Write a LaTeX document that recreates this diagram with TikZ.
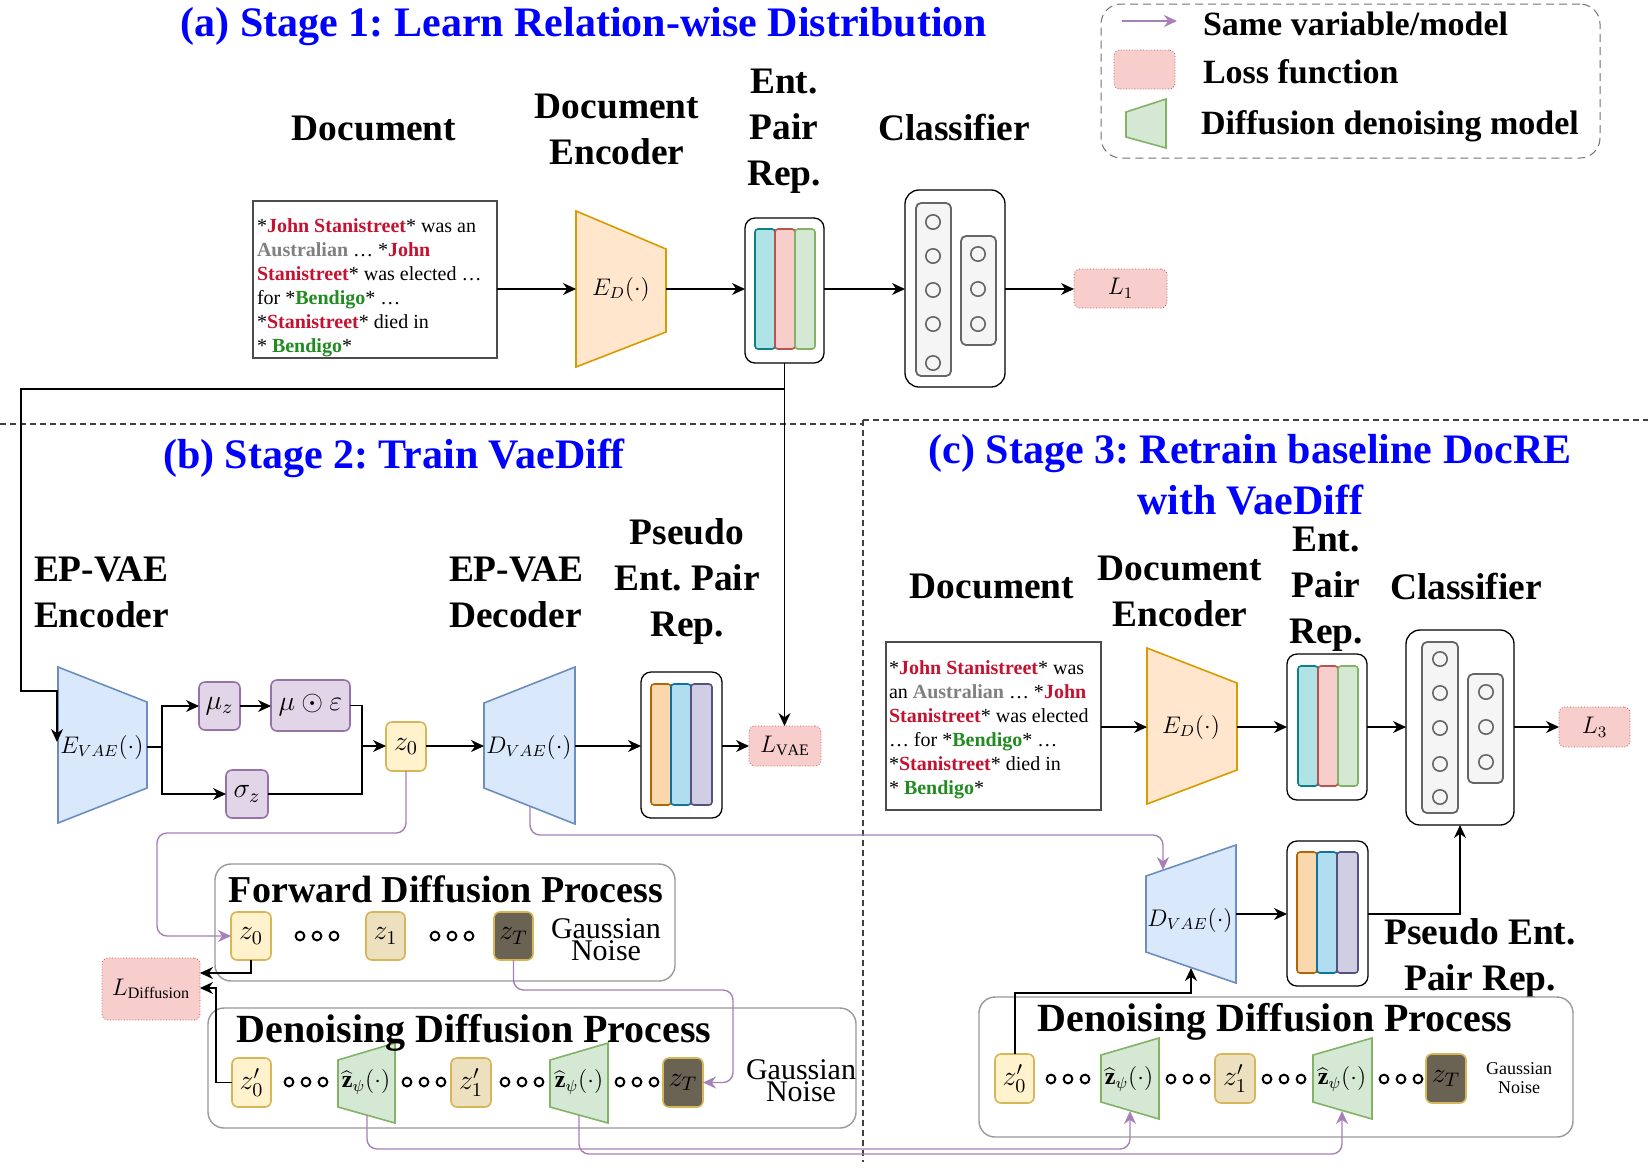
\RequirePackage{fix-cm}
\documentclass[tikz,border=0pt]{standalone}
\usepackage{fontspec}
\setmainfont{Liberation Serif}
\usetikzlibrary{arrows.meta,calc}
\frenchspacing
\definecolor{dred}{HTML}{C41230}
\definecolor{dgreen}{HTML}{228B22}
\definecolor{dgray}{HTML}{808080}
\definecolor{orfill}{HTML}{FFE6CC}\definecolor{orline}{HTML}{D79B00}
\definecolor{tealf}{HTML}{B0E3E6}\definecolor{teall}{HTML}{0E8088}
\definecolor{redf}{HTML}{F8CECC}\definecolor{redl}{HTML}{B85450}
\definecolor{greenf}{HTML}{D5E8D4}\definecolor{greenl}{HTML}{82B366}
\definecolor{grayf}{HTML}{F5F5F5}\definecolor{grayl}{HTML}{666666}
\definecolor{bluef}{HTML}{DAE8FC}\definecolor{bluel}{HTML}{6C8EBF}
\definecolor{purf}{HTML}{E1D5E7}\definecolor{purl}{HTML}{9673A6}
\definecolor{yelf}{HTML}{FFF2CC}\definecolor{yell}{HTML}{D6B656}
\definecolor{beigef}{HTML}{EDE0BF}
\definecolor{darkf}{HTML}{6A6354}
\definecolor{ortwof}{HTML}{FAD7AC}\definecolor{ortwol}{HTML}{B46504}
\definecolor{blutwof}{HTML}{B1DDF0}\definecolor{blutwol}{HTML}{10739E}
\definecolor{purtwof}{HTML}{D0CEE2}\definecolor{purtwol}{HTML}{56517E}
\definecolor{plink}{HTML}{A680B8}
\definecolor{boxgray}{HTML}{999999}
\newcommand\mkbox[7]{\node[#1, minimum width={(#5-#3)*0.5pt}, minimum height={(#6-#4)*0.5pt}] (#2) at ({(#3+#5)/2},{(#4+#6)/2}) {#7};}
\newcommand\threedots[2]{\foreach \dx in {-17,0,17}{\draw[line width=1pt] ({#1+\dx},#2) circle (2.2pt);}}
\tikzset{
 lbl/.style={font=\fontsize{18.7}{23}\selectfont\bfseries, align=center},
 ttl/.style={font=\fontsize{21}{25.5}\selectfont\bfseries, text=blue, align=center},
 legtxt/.style={font=\fontsize{17}{20}\selectfont\bfseries, anchor=west},
 doctxt/.style={font=\fontsize{10}{12}\selectfont, align=left, anchor=west},
 docbox/.style={draw=black!70, line width=0.9pt, fill=white},
 repbox/.style={draw=black, line width=0.65pt, rounded corners=5pt, fill=white},
 bar/.style={line width=0.8pt, rounded corners=1.5pt},
 clsbox/.style={draw=black, line width=0.65pt, rounded corners=7pt, fill=white},
 col/.style={draw=grayl, fill=grayf, line width=0.9pt, rounded corners=2.5pt},
 neuron/.style={draw=grayl, line width=0.8pt},
 loss/.style={draw=redl, densely dotted, line width=0.4pt, fill=redf, rounded corners=3pt, font=\fontsize{12}{14}\selectfont},
 legbox/.style={draw=black!55, dash pattern=on 4pt off 2.5pt, line width=0.5pt, rounded corners=10pt},
 vaetrap/.style={draw=bluel, fill=bluef, line width=0.8pt},
 edtrap/.style={draw=orline, fill=orfill, line width=0.8pt},
 dmtrap/.style={draw=greenl, fill=greenf, line width=0.8pt},
 mubox/.style={draw=purl, fill=purf, line width=0.8pt, rounded corners=3pt, font=\fontsize{14}{16}\selectfont},
 zbox/.style={draw=yell, fill=yelf, line width=0.8pt, rounded corners=3pt, font=\fontsize{14}{16}\selectfont},
 zonebox/.style={zbox, fill=beigef},
 ztbox/.style={zbox, fill=darkf},
 proc/.style={draw=boxgray, line width=0.7pt, rounded corners=8pt, fill=white},
 ptitle/.style={font=\fontsize{19}{22}\selectfont\bfseries},
 arr/.style={draw=black, line width=0.6pt, -{Stealth[length=6.5pt,width=6pt]}},
 plainline/.style={draw=black, line width=0.6pt},
 parr/.style={draw=plink, line width=0.7pt, rounded corners=5pt, -{Stealth[length=6.5pt,width=6pt]}},
 dashsep/.style={draw=black!75, line width=0.6pt, dash pattern=on 3pt off 2pt},
 mathlbl/.style={font=\fontsize{12}{14}\selectfont},
 gn/.style={font=\fontsize{15}{10}\selectfont, align=center},
 gns/.style={font=\fontsize{9}{9.5}\selectfont, align=center}
}
\begin{document}
\begin{tikzpicture}[x=0.5pt,y=-0.5pt, every node/.style={inner sep=0pt, outer sep=0pt}]
\fill[white] (0,0) rectangle (1648,1175);
\useasboundingbox (0,0) rectangle (1648,1175);
% separators
\draw[dashsep] (0,424) -- (863,424);
\draw[dashsep] (863,420) -- (1648,420);
\draw[dashsep] (863,420) -- (863,1162);
% titles
\node[ttl] (t1) at (584,27) {(a) Stage 1: Learn Relation-wise Distribution};
\node[ttl] (t2) at (394,458) {(b) Stage 2: Train VaeDiff};
\node[ttl] (t3) at (1250,475) {(c) Stage 3: Retrain baseline DocRE\\with VaeDiff};
% legend
\mkbox{legbox}{leg}{1101}{4}{1600}{158}{}
\coordinate (la1) at (1122,21); \coordinate (la2) at (1177,21);
\draw[parr] (la1) -- (la2);
\node[legtxt] (lg1) at (1203,24) {Same variable/model};
\mkbox{loss}{legL}{1114}{50}{1175}{89}{}
\node[legtxt] (lg2) at (1203,72) {Loss function};
\draw[dmtrap] (1126,112) -- (1166,99) -- (1166,148) -- (1126,137) -- cycle;
\node[legtxt] (lg3) at (1201,126) {Diffusion denoising model};
% ---------- Stage 1 ----------
\node[lbl] (h1a) at (374,128) {Document};
\node[lbl] (h1b) at (617,129) {Document\\Encoder};
\node[lbl] (h1c) at (784,131) {Ent.\\Pair\\Rep.};
\node[lbl] (h1d) at (954,128) {Classifier};
\mkbox{docbox}{doc1}{253}{201}{497}{358}{}
\node[doctxt] (doc1t) at (257,288) {*\textcolor{dred}{\textbf{John Stanistreet}}* was an\\
\textcolor{dgray}{\textbf{Australian}} … *\textcolor{dred}{\textbf{John}}\\
\textcolor{dred}{\textbf{Stanistreet}}* was elected …\\
for *\textcolor{dgreen}{\textbf{Bendigo}}* …\\
*\textcolor{dred}{\textbf{Stanistreet}}* died in\\
* \textcolor{dgreen}{\textbf{Bendigo}}*};
\draw[edtrap] (576,211) -- (666,249) -- (666,332) -- (576,367) -- cycle;
\node[mathlbl] (ED1) at (621,289) {$E_D(\cdot)$};
\coordinate (ED1w) at (576,289); \coordinate (ED1e) at (666,289);
\mkbox{repbox}{rep1}{745}{218}{824}{363}{}
\draw[bar, draw=teall, fill=tealf] (755,229) rectangle (775,349);
\draw[bar, draw=redl, fill=redf] (775,229) rectangle (795,349);
\draw[bar, draw=greenl, fill=greenf] (795,229) rectangle (815,349);
\mkbox{clsbox}{cls1}{905}{190}{1005}{387}{}
\draw[col] (916,203) rectangle (951,376);
\foreach \yy in {222,256,290,324,363} \draw[neuron] (933,\yy) circle (3.6pt);
\draw[col] (961,236) rectangle (996,345);
\foreach \yy in {254,289,324} \draw[neuron] (978,\yy) circle (3.6pt);
\mkbox{loss}{L1}{1074}{269}{1167}{308}{$L_1$}
\draw[arr] (doc1.east |- ED1w) -- (ED1w);
\draw[arr] (ED1e) -- (rep1.west |- ED1e);
\draw[arr] (rep1.east |- ED1e) -- (cls1.west |- ED1e);
\draw[arr] (cls1.east |- ED1e) -- (L1.west |- ED1e);
% ---------- Stage 2 ----------
\node[lbl, align=left, anchor=west] (h2a) at (34,592) {EP-VAE\\Encoder};
\node[lbl, align=left, anchor=west] (h2b) at (449,592) {EP-VAE\\Decoder};
\node[lbl] (h2c) at (687,581) {Pseudo\\Ent. Pair\\Rep.};
\draw[vaetrap] (58,667) -- (147,702) -- (147,788) -- (58,823) -- cycle;
\node[mathlbl] (EVAE) at (102,747) {$E_{VAE}(\cdot)$};
\coordinate (EVAEe) at (147,747); \coordinate (evin) at (57,742);
\mkbox{mubox}{mu}{199}{682}{240}{730}{$\mu_z$}
\mkbox{mubox}{mue}{271}{680}{350}{731}{$\mu\odot\varepsilon$}
\mkbox{mubox}{sig}{226}{770}{268}{818}{$\sigma_z$}
\mkbox{zbox}{z0a}{386}{722}{426}{771}{$z_0$}
\draw[vaetrap] (484,703) -- (575,667) -- (575,824) -- (484,788) -- cycle;
\node[mathlbl] (DVAE2) at (529,747) {$D_{VAE}(\cdot)$};
\coordinate (DV2w) at (484,746); \coordinate (DV2e) at (575,746); \coordinate (DV2b) at (530,806);
\mkbox{repbox}{rep2}{641}{672}{722}{818}{}
\draw[bar, draw=ortwol, fill=ortwof] (651,684) rectangle (671,805);
\draw[bar, draw=blutwol, fill=blutwof] (671,684) rectangle (691,805);
\draw[bar, draw=purtwol, fill=purtwof] (691,684) rectangle (712,805);
\mkbox{loss}{LVAE}{749}{726}{821}{766}{$L_{\mathrm{VAE}}$}
\draw[arr] (rep1.south) |- (21,389) |- (57,691) -- (evin);
\draw[arr] (rep1.south) -- (rep1.south |- LVAE.north);
\coordinate (br1) at (162,747); \coordinate (mg) at (362,746);
\draw[plainline] (EVAEe) -- (br1);
\draw[arr] (br1) |- (mu.west);
\draw[arr] (br1) |- (sig.west);
\draw[arr] (mu.east) -- (mue.west |- mu.east);
\draw[plainline] (mue.east) -| (mg);
\draw[plainline] (sig.east) -| (mg);
\draw[arr] (mg) -- (z0a.west |- mg);
\draw[arr] (z0a.east |- DV2w) -- (DV2w);
\draw[arr] (DV2e) -- (rep2.west |- DV2e);
\draw[arr] (rep2.east |- DV2e) -- (LVAE.west |- DV2e);
% forward diffusion
\mkbox{proc}{fbox}{215}{864}{675}{981}{}
\node[ptitle] (fttl) at (446,889) {Forward Diffusion Process};
\mkbox{zbox}{fz0}{231}{912}{271}{960}{$z_0$}
\threedots{317}{936}
\mkbox{zonebox}{fz1}{366}{912}{405}{960}{$z_1$}
\threedots{452}{936}
\mkbox{ztbox}{fzT}{494}{912}{533}{960}{$z_T$}
\node[gn] (fgn) at (606,940) {Gaussian\\Noise};
\mkbox{loss}{LD}{102}{958}{200}{1020}{$L_{\mathrm{Diffusion}}$}
% denoising stage 2
\mkbox{proc}{dbox2}{208}{1008}{856}{1128}{}
\mkbox{zbox}{dz0}{232}{1058}{271}{1107}{$z'_0$}
\threedots{306}{1082}
\draw[dmtrap] (338,1060) -- (395,1043) -- (395,1123) -- (338,1107) -- cycle;
\node[mathlbl] (tr1) at (366,1082) {$\widehat{\mathbf{z}}_{\psi}(\cdot)$};
\threedots{424}{1082}
\mkbox{zonebox}{dz1}{451}{1058}{491}{1107}{$z'_1$}
\threedots{522}{1082}
\draw[dmtrap] (550,1060) -- (608,1043) -- (608,1123) -- (550,1107) -- cycle;
\node[mathlbl] (tr2) at (579,1082) {$\widehat{\mathbf{z}}_{\psi}(\cdot)$};
\threedots{637}{1082}
\mkbox{ztbox}{dzT}{663}{1058}{703}{1107}{$z_T$}
\node[gn] (dgn) at (801,1081) {Gaussian\\Noise};
\node[ptitle, font=\fontsize{20}{22}\selectfont\bfseries] (dttl2) at (474,1033) {Denoising Diffusion Process};
\coordinate (ld1) at (200,973); \coordinate (ld2) at (200,988);
\draw[arr] (fz0.south) |- (ld1);
\draw[arr] (dz0.west) -| (216,988) -- (ld2);
% ---------- Stage 3 ----------
\node[lbl] (h3a) at (992,586) {Document};
\node[lbl] (h3b) at (1180,591) {Document\\Encoder};
\node[lbl] (h3c) at (1326,589) {Ent.\\Pair\\Rep.};
\node[lbl] (h3d) at (1466,586) {Classifier};
\mkbox{docbox}{doc3}{886}{642}{1101}{810}{}
\node[doctxt] (doc3t) at (889,730) {*\textcolor{dred}{\textbf{John Stanistreet}}* was\\
an \textcolor{dgray}{\textbf{Australian}} … *\textcolor{dred}{\textbf{John}}\\
\textcolor{dred}{\textbf{Stanistreet}}* was elected\\
… for *\textcolor{dgreen}{\textbf{Bendigo}}* …\\
*\textcolor{dred}{\textbf{Stanistreet}}* died in\\
* \textcolor{dgreen}{\textbf{Bendigo}}*};
\draw[edtrap] (1147,648) -- (1237,683) -- (1237,770) -- (1147,804) -- cycle;
\node[mathlbl] (ED3) at (1191,727) {$E_D(\cdot)$};
\coordinate (ED3w) at (1147,727); \coordinate (ED3e) at (1237,727);
\mkbox{repbox}{rep3}{1287}{654}{1367}{800}{}
\draw[bar, draw=teall, fill=tealf] (1298,666) rectangle (1318,786);
\draw[bar, draw=redl, fill=redf] (1318,666) rectangle (1338,786);
\draw[bar, draw=greenl, fill=greenf] (1338,666) rectangle (1358,786);
\mkbox{clsbox}{cls3}{1406}{630}{1514}{825}{}
\draw[col] (1422,642) rectangle (1458,813);
\foreach \yy in {659,693,728,764,797} \draw[neuron] (1440,\yy) circle (3.6pt);
\draw[col] (1468,674) rectangle (1503,783);
\foreach \yy in {692,727,762} \draw[neuron] (1486,\yy) circle (3.6pt);
\mkbox{loss}{L3}{1559}{707}{1630}{747}{$L_3$}
\draw[arr] (doc3.east |- ED3w) -- (ED3w);
\draw[arr] (ED3e) -- (rep3.west |- ED3e);
\draw[arr] (rep3.east |- ED3e) -- (cls3.west |- ED3e);
\draw[arr] (cls3.east |- ED3e) -- (L3.west |- ED3e);
\draw[vaetrap] (1146,876) -- (1236,845) -- (1236,983) -- (1146,952) -- cycle;
\node[mathlbl] (DVAE3) at (1190,920) {$D_{VAE}(\cdot)$};
\coordinate (DV3t) at (1163,870); \coordinate (DV3e) at (1236,914); \coordinate (DV3b) at (1191,968);
\mkbox{repbox}{rep4}{1287}{841}{1368}{986}{}
\draw[bar, draw=ortwol, fill=ortwof] (1297,852) rectangle (1317,973);
\draw[bar, draw=blutwol, fill=blutwof] (1317,852) rectangle (1337,973);
\draw[bar, draw=purtwol, fill=purtwof] (1337,852) rectangle (1358,973);
\node[lbl] (h3e) at (1480,958) {Pseudo Ent.\\Pair Rep.};
\draw[arr] (DV3e) -- (rep4.west |- DV3e);
\draw[arr] (rep4.east |- DV3e) -| (cls3.south);
% denoising stage 3
\mkbox{proc}{dbox3}{979}{997}{1573}{1137}{}
\node[ptitle, font=\fontsize{20}{22}\selectfont\bfseries] (dttl3) at (1275,1022) {Denoising Diffusion Process};
\mkbox{zbox}{dz30}{995}{1054}{1034}{1103}{$z'_0$}
\threedots{1068}{1079}
\draw[dmtrap] (1101,1055) -- (1159,1038) -- (1159,1119) -- (1101,1102) -- cycle;
\node[mathlbl] (tr3) at (1129,1079) {$\widehat{\mathbf{z}}_{\psi}(\cdot)$};
\coordinate (tr3at) at (1130,1111);
\threedots{1188}{1079}
\mkbox{zonebox}{dz31}{1215}{1054}{1255}{1103}{$z'_1$}
\threedots{1284}{1079}
\draw[dmtrap] (1313,1055) -- (1372,1038) -- (1372,1119) -- (1313,1102) -- cycle;
\node[mathlbl] (tr4) at (1342,1079) {$\widehat{\mathbf{z}}_{\psi}(\cdot)$};
\coordinate (tr3bt) at (1342,1111);
\threedots{1401}{1079}
\mkbox{ztbox}{dz3T}{1426}{1054}{1466}{1103}{$z_T$}
\node[gns] (sgn) at (1519,1078) {Gaussian\\Noise};
\draw[arr, line width=1pt] (dz30.north) |- (1191,993) -- (DV3b);
% purple links
\draw[parr] (z0a.south) |- (157,833) |- (fz0.west);
\draw[parr] (DV2b) |- (1163,835) -- (DV3t);
\draw[parr] (fzT.south) |- (733,990) |- (dzT.east);
\coordinate (tr1b) at (367,1115); \coordinate (tr2b) at (579,1115);
\draw[parr] (tr1b) |- (1130,1149) -- (tr3at);
\draw[parr] (tr2b) |- (1342,1154) -- (tr3bt);
\end{tikzpicture}
\end{document}
